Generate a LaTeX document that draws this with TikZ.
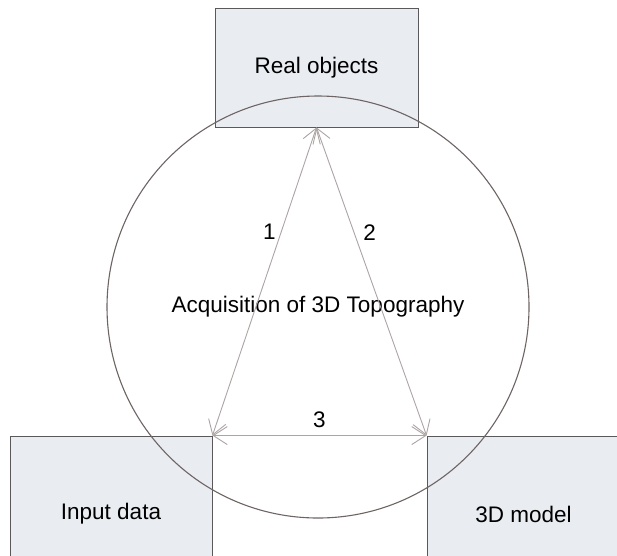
\documentclass[tikz,border=0pt]{standalone}
\usepackage{fontspec}
\setmainfont{Liberation Sans}
\usetikzlibrary{arrows.meta,positioning}

\definecolor{boxfill}{HTML}{E9ECF1}
\definecolor{boxline}{HTML}{5A5858}
\definecolor{ringline}{HTML}{6E6464}
\definecolor{arrowline}{HTML}{ADA4A4}

\begin{document}
\begin{tikzpicture}[x=1pt,y=-1pt,font=\fontsize{22.5}{27}\selectfont]
\tikzset{>={Straight Barb[length=14pt,width=18pt]}}
\tikzset{box/.style={draw=boxline,fill=boxfill,line width=0.9pt,inner sep=0pt}}
\tikzset{link/.style={<->,draw=arrowline,line width=0.9pt}}
\tikzset{num/.style={inner sep=1pt}}
  \clip (0,0) rectangle (617,555);
  % the three boxes
  \node[box,minimum width=203pt,minimum height=119pt] (real) at (316.5,67.5) {Real objects};
  \node[box,minimum width=202pt,minimum height=156pt] (input) at (111,514) {Input data};
  \node[box,minimum width=193pt,minimum height=156pt] (model) at (523.5,514) {3D model};
  % the ring
  \node[circle,draw=ringline,line width=1.1pt,minimum size=422pt,inner sep=0pt] (acq) at (318,307) {Acquisition of 3D Topography};
  % the links
  \path[link] (real.south) -- node[num,pos=0.34,left=4pt] {1} (input.north east);
  \path[link] (real.south) -- node[num,pos=0.34,right=8pt] {2} (model.north west);
  \path[link] (input.north east) -- node[num,above=6pt] {3} (model.north west);
\end{tikzpicture}
\end{document}
